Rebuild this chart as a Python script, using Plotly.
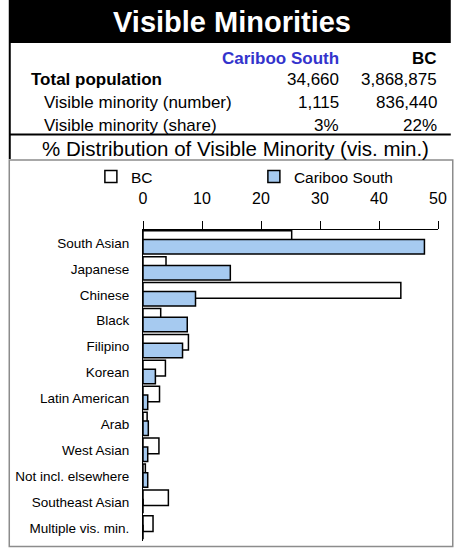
import plotly.graph_objects as go

# ---- data ----
categories = ["South Asian", "Japanese", "Chinese", "Black", "Filipino", "Korean",
              "Latin American", "Arab", "West Asian", "Not incl. elsewhere",
              "Southeast Asian", "Multiple vis. min."]
bc_share = [25.2, 3.9, 43.7, 3.0, 7.7, 3.8, 2.8, 0.7, 2.7, 0.4, 4.3, 1.7]
cariboo_share = [47.7, 14.8, 8.9, 7.5, 6.7, 2.1, 0.8, 0.9, 0.8, 0.8, 0, 0]

region_name = "Cariboo South"
province_name = "BC"
row_labels = ["Total population", "Visible minority (number)", "Visible minority (share)"]
region_values = ["34,660", "1,115", "3%"]
province_values = ["3,868,875", "836,440", "22%"]
x_ticks = [0, 10, 20, 30, 40, 50]

# ---- layout geometry (pixels) ----
W, H = 454, 548
L, R, T, B = 143, 11, 230, 7
PW, PH = W - L - R, H - T - B
FONT = "Arial, Liberation Sans, sans-serif"


def px_x(p):
    return (p - L) / PW


def px_y(p):
    return (H - B - p) / PH


fig = go.Figure()
fig.add_trace(go.Bar(
    name=province_name, orientation="h", x=bc_share, y=categories,
    marker=dict(color="white", line=dict(color="black", width=1.5)),
    width=0.6, offset=-0.47, hoverinfo="x+y"))
fig.add_trace(go.Bar(
    name=region_name, orientation="h", x=cariboo_share, y=categories,
    marker=dict(color="#A6CAF0", line=dict(color="black", width=1.5)),
    width=0.56, offset=-0.13, hoverinfo="x+y"))

shapes = [
    # title band
    dict(type="rect", xref="paper", yref="paper", x0=px_x(7), x1=px_x(456),
         y0=px_y(43), y1=px_y(-2), fillcolor="black", line=dict(width=0), layer="below"),
    # left black line of header/table
    dict(type="line", xref="paper", yref="paper", x0=px_x(7.5), x1=px_x(7.5),
         y0=px_y(0), y1=px_y(159), line=dict(color="black", width=2)),
    # separator under table
    dict(type="line", xref="paper", yref="paper", x0=px_x(7), x1=px_x(456),
         y0=px_y(134.5), y1=px_y(134.5), line=dict(color="black", width=2)),
    # chart box
    dict(type="rect", xref="paper", yref="paper", x0=px_x(7), x1=px_x(458),
         y0=px_y(546.5), y1=px_y(160), line=dict(color="#8c8c8c", width=1.5),
         layer="below"),
]

annotations = []


def txt(text, x, y, size, xanchor="left", bold=False, color="black"):
    if bold:
        text = "<b>" + text + "</b>"
    annotations.append(dict(text=text, xref="paper", yref="paper", x=px_x(x), y=px_y(y),
                            xanchor=xanchor, yanchor="middle", showarrow=False,
                            font=dict(family=FONT, size=size, color=color)))


txt("Visible Minorities", 234, 22, 29, xanchor="center", bold=True, color="white")
txt(region_name, 344, 58, 17, xanchor="right", bold=True, color="#3333CC")
txt(province_name, 444, 58, 17, xanchor="right", bold=True)
row_y = [80, 102.5, 125]
row_x = [27, 40.5, 40.5]
for i, lab in enumerate(row_labels):
    txt(lab, row_x[i], row_y[i], 17, bold=(i == 0))
    txt(region_values[i], 344, row_y[i], 17, xanchor="right")
    txt(province_values[i], 444, row_y[i], 17, xanchor="right")
txt("% Distribution of Visible Minority (vis. min.)", 237.5, 148, 20.5, xanchor="center")

fig.update_layout(
    width=W, height=H,
    margin=dict(l=L, r=R, t=T, b=B, pad=0),
    paper_bgcolor="white", plot_bgcolor="white",
    barmode="overlay",
    font=dict(family=FONT, color="black"),
    showlegend=True,
    legend=dict(orientation="h", x=px_x(90), y=px_y(177), xanchor="left", yanchor="middle",
                font=dict(family=FONT, size=15.5), entrywidth=118, entrywidthmode="pixels",
                bgcolor="rgba(0,0,0,0)", traceorder="normal", itemclick=False),
    shapes=shapes,
    annotations=annotations,
    xaxis=dict(range=[0, 50], side="top", tickvals=x_ticks, ticktext=[str(v) for v in x_ticks],
               showgrid=False, zeroline=False, showline=True, linecolor="black", linewidth=1,
               ticks="outside", ticklen=8, tickcolor="black", tickwidth=1,
               tickfont=dict(family=FONT, size=16), ticklabelstandoff=11, fixedrange=True),
    yaxis=dict(type="category", categoryorder="array", categoryarray=categories,
               range=[len(categories) - 0.5, -0.5], showgrid=False, zeroline=False,
               showline=True, linecolor="black", linewidth=1, ticks="",
               tickfont=dict(family=FONT, size=13.5), ticklabelstandoff=10, fixedrange=True),
)

fig.write_html("out.html", config={"displayModeBar": False},
               post_script="document.body.style.margin='0';")
